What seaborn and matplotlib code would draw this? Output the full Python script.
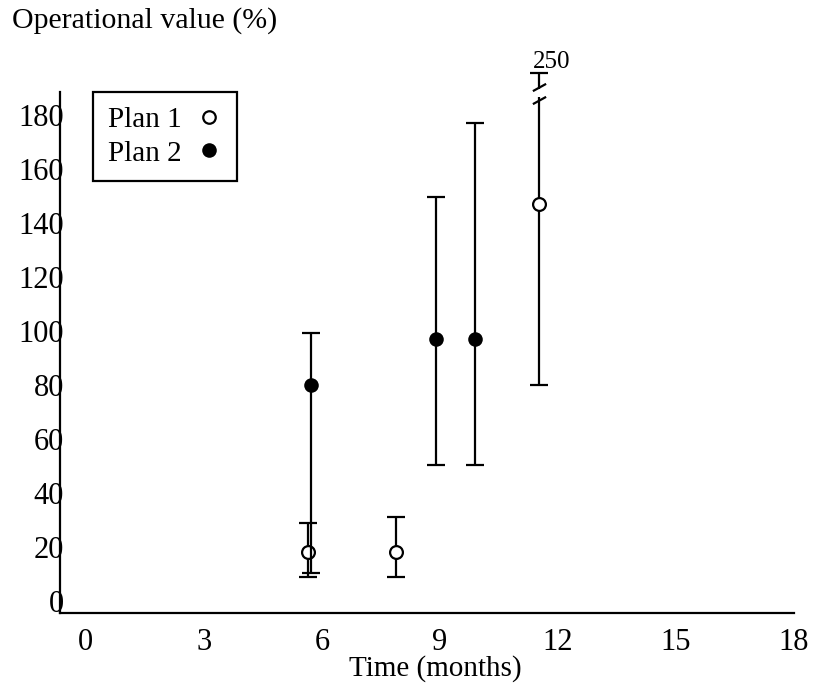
import numpy as np
import pandas as pd
import matplotlib
matplotlib.use("Agg")
import matplotlib.pyplot as plt
import seaborn as sns
from matplotlib.path import Path
from matplotlib.lines import Line2D

# ---- data ----
plan1_time = [5.65, 7.88, 11.52]
plan1_value = [18, 18, 147]
plan1_low = [9, 9, 80]
plan1_high = [29, 31, 250]

plan2_time = [5.72, 8.9, 9.9]
plan2_value = [80, 97, 97]
plan2_low = [10.4, 50.5, 50.5]
plan2_high = [99.3, 149.6, 177]

x_ticks = [0, 3, 6, 9, 12, 15, 18]
y_ticks = [0, 20, 40, 60, 80, 100, 120, 140, 160, 180]
x_label = "Time (months)"
y_label = "Operational value (%)"
series_names = ["Plan 1", "Plan 2"]

# ---- style ----
sns.set_theme(style="white")
plt.rcParams["font.family"] = ["Liberation Serif", "DejaVu Serif"]
plt.rcParams["text.color"] = "black"
plt.rcParams["axes.labelcolor"] = "black"
FS = 22

fig = plt.figure(figsize=(8.18, 6.90), dpi=100)
ax = fig.add_axes([0.0733, 0.1116, 0.8973, 0.7551])

YMIN, YMAX = -4.5, 188.5
BREAK_CAP = 195.5      # display position of the cap of a bar that exceeds the axis

df1 = pd.DataFrame({"time": plan1_time, "value": plan1_value,
                    "low": plan1_low, "high": plan1_high})
df2 = pd.DataFrame({"time": plan2_time, "value": plan2_value,
                    "low": plan2_low, "high": plan2_high})

def draw_errors(df, z):
    shown_high = np.where(df["high"] > YMAX, BREAK_CAP, df["high"])
    yerr = np.vstack([df["value"] - df["low"], shown_high - df["value"]])
    ax.errorbar(df["time"], df["value"], yerr=yerr, fmt="none",
                ecolor="black", elinewidth=1.6, capsize=6.5, capthick=1.6,
                zorder=z, clip_on=False)

# Plan 1 (open circles)
draw_errors(df1, 2)
sns.scatterplot(data=df1, x="time", y="value", ax=ax, marker="o", s=85,
                facecolor="white", edgecolor="black", linewidth=1.6,
                zorder=3, legend=False, clip_on=False)
# Plan 2 (filled circles)
draw_errors(df2, 4)
sns.scatterplot(data=df2, x="time", y="value", ax=ax, marker="o", s=110,
                color="black", edgecolor="black", linewidth=0,
                zorder=5, legend=False, clip_on=False)

# axis break for values above the axis
slash = Path([(-1.0, -0.55), (1.0, 0.55)], [Path.MOVETO, Path.LINETO])
for t, hi in zip(plan1_time, plan1_high):
    if hi > YMAX:
        ax.plot([t, t], [186.6, 189.5], color="white", lw=4, zorder=6,
                solid_capstyle="butt", clip_on=False)
        ax.plot([t, t], [190.5, 185.7], ls="none", marker=slash,
                markersize=9.5, mew=1.6, color="black", zorder=7, clip_on=False)
        ax.annotate(f"{hi:g}", xy=(t, BREAK_CAP), xytext=(9, 0),
                    textcoords="offset points", ha="center", va="bottom",
                    fontsize=18, color="black", annotation_clip=False)

ax.set_xlim(-0.66, 17.9)
ax.set_ylim(YMIN, YMAX)
ax.set_xticks(x_ticks)
ax.set_yticks(y_ticks)
ax.set_xticklabels([str(v) for v in x_ticks])
ax.set_yticklabels([str(v) for v in y_ticks])
ax.tick_params(axis="x", length=0, pad=11, labelsize=FS, colors="black")
ax.tick_params(axis="y", length=0, pad=-3, labelsize=FS, colors="black")
ax.set_xlabel("")
ax.set_ylabel("")
for s in ["top", "right"]:
    ax.spines[s].set_visible(False)
for s in ["left", "bottom"]:
    ax.spines[s].set_color("black")
    ax.spines[s].set_linewidth(1.6)

fig.text(12 / 818, 1 - 21 / 690, y_label, ha="left", va="center", fontsize=21.5)
fig.text(435 / 818, 1 - 669 / 690, x_label, ha="center", va="center", fontsize=FS - 1)

handles = [
    Line2D([], [], ls="none", marker="o", markersize=9, markerfacecolor="white",
           markeredgecolor="black", markeredgewidth=1.6),
    Line2D([], [], ls="none", marker="o", markersize=10.5, markerfacecolor="black",
           markeredgecolor="black", markeredgewidth=0),
]
leg = ax.legend(handles, series_names, loc="upper left",
                bbox_to_anchor=(0.045, 1.0), borderaxespad=0, markerfirst=False,
                fontsize=21, frameon=True, fancybox=False, framealpha=1,
                edgecolor="black", borderpad=0.5, labelspacing=0.25,
                handlelength=0.9, handletextpad=0.5)
leg.get_frame().set_linewidth(1.6)
for txt in leg.get_texts():
    txt.set_color("black")

fig.savefig("out.png", dpi=100)
